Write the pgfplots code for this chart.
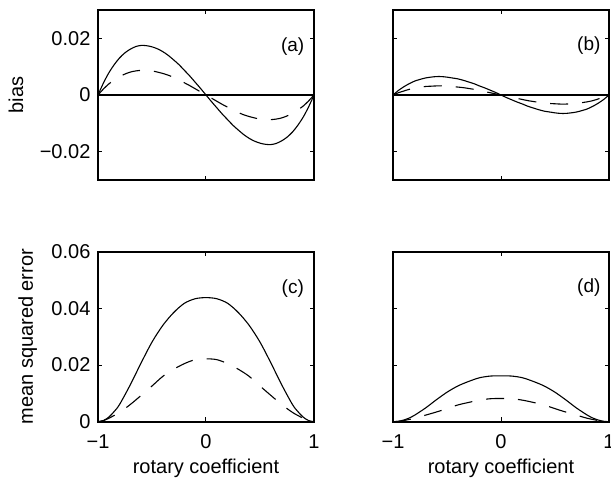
\documentclass[border=0pt]{standalone}
\usepackage{fontspec}
\setmainfont{Liberation Sans}
\usepackage{pgfplots}
\pgfplotsset{compat=1.18}
\pgfplotsset{
  panel/.style={
    scale only axis, width=108pt, height=85pt, anchor=south west,
    xmin=-1, xmax=1, xtick={-1,0,1},
    axis line style={line width=0.9pt},
    tick align=inside, major tick length=2.2pt,
    every tick/.style={black, line width=0.5pt},
    font=\fontsize{10}{12}\selectfont,
    xticklabel style={anchor=base, yshift=-13.3pt},
    yticklabel style={inner sep=3.6pt},
    scaled y ticks=false,
  },
  toprow/.style={ymin=-0.03, ymax=0.03, ytick={-0.02,0,0.02}, xticklabels={{},{},{}}},
  botrow/.style={ymin=0, ymax=0.06, ytick={0,0.02,0.04,0.06}, xticklabels={−1,0,1},
    xlabel={rotary coefficient},
    xlabel style={at={(axis description cs:0.5,-0.3035)}, anchor=base}},
  sol/.style={black, line width=0.55pt, smooth},
  dsh/.style={black, line width=0.55pt, smooth, dash pattern=on 9pt off 7pt},
}
\tikzset{plab/.style={anchor=east, inner sep=0pt, font=\fontsize{9.5}{11}\selectfont}}
\begin{document}
\begin{tikzpicture}
\path[use as bounding box] (0,0) rectangle (305.5pt,241pt);
% (a)
\begin{axis}[panel, toprow, at={(49pt,151pt)},
  yticklabels={−0.02,0,0.02},
  ylabel={bias}, ylabel style={at={(axis description cs:-0.347,0.5)}, anchor=base}]
\addplot[sol] coordinates {(-1,0) (-0.95,0.0042) (-0.9,0.0078) (-0.85,0.0107) (-0.8,0.0131) (-0.75,0.0149) (-0.7,0.0162) (-0.65,0.0171) (-0.6,0.0175) (-0.55,0.0174) (-0.5,0.0170) (-0.45,0.0163) (-0.4,0.0153) (-0.35,0.0140) (-0.3,0.0124) (-0.25,0.0107) (-0.2,0.0087) (-0.15,0.0067) (-0.1,0.0045) (-0.05,0.0023) (0,0)
 (0.05,-0.0023) (0.1,-0.0045) (0.15,-0.0067) (0.2,-0.0087) (0.25,-0.0107) (0.3,-0.0124) (0.35,-0.0140) (0.4,-0.0153) (0.45,-0.0163) (0.5,-0.0170) (0.55,-0.0174) (0.6,-0.0175) (0.65,-0.0171) (0.7,-0.0162) (0.75,-0.0149) (0.8,-0.0131) (0.85,-0.0107) (0.9,-0.0078) (0.95,-0.0042) (1,0)};
\addplot[dsh] coordinates {(-1,0) (-0.95,0.0021) (-0.9,0.0039) (-0.85,0.0053) (-0.8,0.0065) (-0.75,0.0074) (-0.7,0.0081) (-0.65,0.0085) (-0.6,0.0087) (-0.55,0.0087) (-0.5,0.0085) (-0.45,0.0081) (-0.4,0.0076) (-0.35,0.0070) (-0.3,0.0062) (-0.25,0.0053) (-0.2,0.0043) (-0.15,0.0033) (-0.1,0.0022) (-0.05,0.0011) (0,0)
 (0.05,-0.0011) (0.1,-0.0022) (0.15,-0.0033) (0.2,-0.0043) (0.25,-0.0053) (0.3,-0.0062) (0.35,-0.0070) (0.4,-0.0076) (0.45,-0.0081) (0.5,-0.0085) (0.55,-0.0087) (0.6,-0.0087) (0.65,-0.0085) (0.7,-0.0081) (0.75,-0.0074) (0.8,-0.0065) (0.85,-0.0053) (0.9,-0.0039) (0.95,-0.0021) (1,0)};
\addplot[black, line width=1pt] coordinates {(-1,0) (1,0)};
\node[plab] at (rel axis cs:0.957,0.787) {(a)};
\end{axis}
% (b)
\begin{axis}[panel, toprow, at={(196.5pt,151pt)}, yticklabels={{},{},{}}]
\addplot[sol] coordinates {(-1,0) (-0.95,0.0016) (-0.9,0.0029) (-0.85,0.0040) (-0.8,0.0049) (-0.75,0.0055) (-0.7,0.0060) (-0.65,0.0063) (-0.6,0.0065) (-0.55,0.0065) (-0.5,0.0063) (-0.45,0.0060) (-0.4,0.0057) (-0.35,0.0052) (-0.3,0.0046) (-0.25,0.0040) (-0.2,0.0032) (-0.15,0.0025) (-0.1,0.0017) (-0.05,0.0009) (0,0)
 (0.05,-0.0009) (0.1,-0.0017) (0.15,-0.0025) (0.2,-0.0032) (0.25,-0.0040) (0.3,-0.0046) (0.35,-0.0052) (0.4,-0.0057) (0.45,-0.0060) (0.5,-0.0063) (0.55,-0.0065) (0.6,-0.0065) (0.65,-0.0063) (0.7,-0.0060) (0.75,-0.0055) (0.8,-0.0049) (0.85,-0.0040) (0.9,-0.0029) (0.95,-0.0016) (1,0)};
\addplot[dsh] coordinates {(-1,0) (-0.95,0.0008) (-0.9,0.0014) (-0.85,0.0020) (-0.8,0.0024) (-0.75,0.0027) (-0.7,0.0030) (-0.65,0.0031) (-0.6,0.0032) (-0.55,0.0032) (-0.5,0.0031) (-0.45,0.0030) (-0.4,0.0028) (-0.35,0.0026) (-0.3,0.0023) (-0.25,0.0020) (-0.2,0.0016) (-0.15,0.0012) (-0.1,0.0008) (-0.05,0.0004) (0,0)
 (0.05,-0.0004) (0.1,-0.0008) (0.15,-0.0012) (0.2,-0.0016) (0.25,-0.0020) (0.3,-0.0023) (0.35,-0.0026) (0.4,-0.0028) (0.45,-0.0030) (0.5,-0.0031) (0.55,-0.0032) (0.6,-0.0032) (0.65,-0.0031) (0.7,-0.0030) (0.75,-0.0027) (0.8,-0.0024) (0.85,-0.0020) (0.9,-0.0014) (0.95,-0.0008) (1,0)};
\addplot[black, line width=1pt] coordinates {(-1,0) (1,0)};
\node[plab] at (rel axis cs:0.962,0.79) {(b)};
\end{axis}
% (c)
\begin{axis}[panel, botrow, at={(49pt,30.15pt)},
  yticklabels={0,0.02,0.04,0.06},
  ylabel={mean squared error}, ylabel style={at={(axis description cs:-0.302,0.5)}, anchor=base}]
\addplot[sol] coordinates {(-1,0) (-0.95,0.0004) (-0.9,0.0016) (-0.85,0.0036) (-0.8,0.0061) (-0.7,0.0131) (-0.6,0.0208) (-0.5,0.0281) (-0.4,0.0340) (-0.3,0.0385) (-0.2,0.0418) (-0.1,0.0434) (0,0.0438)
 (0.1,0.0434) (0.2,0.0418) (0.3,0.0385) (0.4,0.0340) (0.5,0.0281) (0.6,0.0208) (0.7,0.0131) (0.8,0.0061) (0.85,0.0036) (0.9,0.0016) (0.95,0.0004) (1,0)};
\addplot[dsh] coordinates {(-1,0) (-0.95,0.0004) (-0.9,0.0012) (-0.8,0.0033) (-0.7,0.0061) (-0.6,0.0093) (-0.5,0.0126) (-0.4,0.0160) (-0.3,0.0185) (-0.2,0.0205) (-0.1,0.0219) (0,0.0222)
 (0.1,0.0219) (0.2,0.0205) (0.3,0.0185) (0.4,0.0160) (0.5,0.0126) (0.6,0.0093) (0.7,0.0061) (0.8,0.0033) (0.9,0.0012) (0.95,0.0004) (1,0)};
\node[plab] at (rel axis cs:0.955,0.785) {(c)};
\end{axis}
% (d)
\begin{axis}[panel, botrow, at={(196.5pt,30.15pt)}, yticklabels={{},{},{},{}}]
\addplot[sol] coordinates {(-1,0) (-0.95,0.00015) (-0.9,0.0006) (-0.85,0.0013) (-0.8,0.0023) (-0.7,0.0048) (-0.6,0.0077) (-0.5,0.0104) (-0.4,0.0126) (-0.3,0.0142) (-0.2,0.0155) (-0.1,0.0161) (0,0.0162)
 (0.1,0.0161) (0.2,0.0155) (0.3,0.0142) (0.4,0.0126) (0.5,0.0104) (0.6,0.0077) (0.7,0.0048) (0.8,0.0023) (0.85,0.0013) (0.9,0.0006) (0.95,0.00015) (1,0)};
\addplot[dsh] coordinates {(-1,0) (-0.95,0.0001) (-0.9,0.0004) (-0.8,0.0012) (-0.7,0.0023) (-0.6,0.0034) (-0.5,0.0046) (-0.4,0.0059) (-0.3,0.0068) (-0.2,0.0076) (-0.1,0.0081) (0,0.0082)
 (0.1,0.0081) (0.2,0.0076) (0.3,0.0068) (0.4,0.0059) (0.5,0.0046) (0.6,0.0034) (0.7,0.0023) (0.8,0.0012) (0.9,0.0004) (0.95,0.0001) (1,0)};
\node[plab] at (rel axis cs:0.962,0.79) {(d)};
\end{axis}
\end{tikzpicture}
\end{document}
